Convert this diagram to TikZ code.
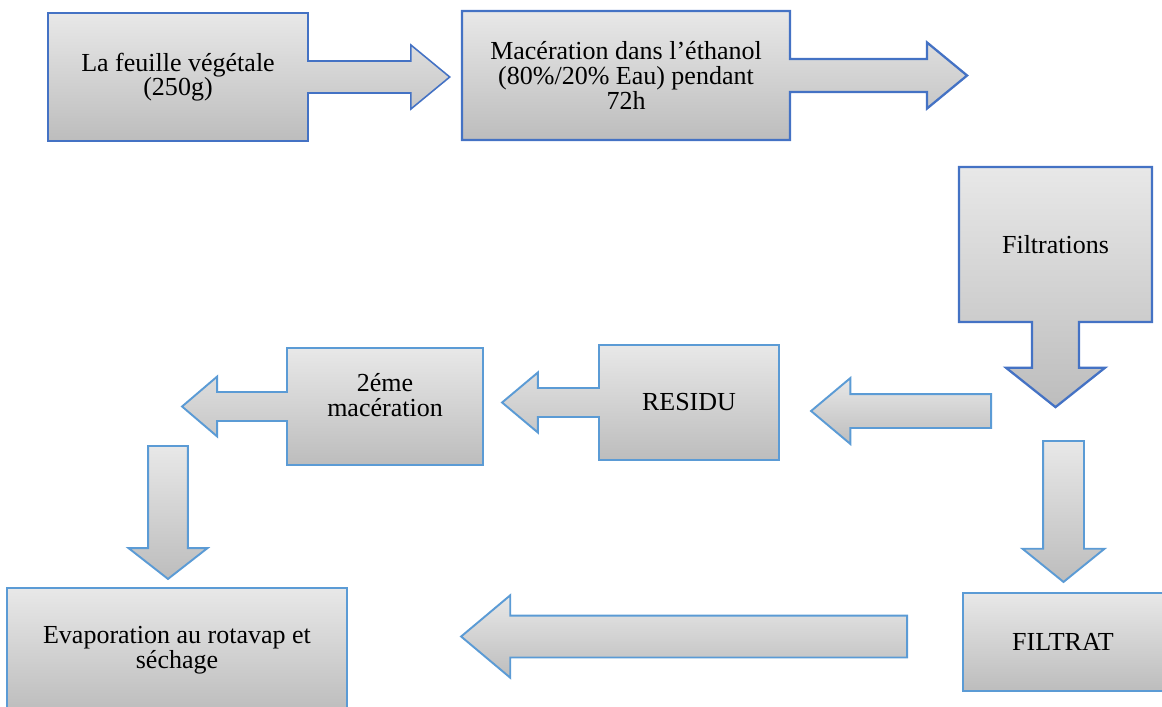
\documentclass[tikz,border=0pt]{standalone}
\usepackage{fontspec}
\setmainfont{Liberation Serif}
\usetikzlibrary{shapes.arrows}
\definecolor{darkblue}{HTML}{4472C4}
\definecolor{lightblue}{HTML}{5B9BD5}

\begin{document}
\begin{tikzpicture}[x=0.02cm,y=-0.02cm]
\tikzstyle{stage}=[rectangle, draw=lightblue, line width=1.1pt, top color=black!9, bottom color=black!26, inner sep=0pt, align=center, font=\fontsize{14.8}{14}\selectfont]
\tikzstyle{callout}=[stage, arrow box, arrow box arrows={north:0pt, south:0pt, east:0pt, west:0pt}]
\tikzstyle{flow}=[single arrow, draw=lightblue, line width=1.1pt, top color=black!9, bottom color=black!26, inner sep=0pt, minimum width=0pt, anchor=tail]
\useasboundingbox (0,0) rectangle (1162,706);

\node[callout, draw=darkblue, line width=0.9pt, minimum width=5.2cm, minimum height=2.56cm, arrow box arrows={east:2.82cm}, arrow box shaft width=0.64cm, arrow box head extend=0.32cm, arrow box tip angle=79] (leaf) at (178,77) {La feuille végétale\\(250g)};
\node[callout, draw=darkblue, line width=1.3pt, minimum width=6.56cm, minimum height=2.58cm, arrow box arrows={east:3.52cm}, arrow box shaft width=0.66cm, arrow box head extend=0.33cm, arrow box tip angle=79] (macer) at (626,75.5) {Macération dans l’éthanol\\(80\%/20\% Eau) pendant\\72h};
\node[callout, draw=darkblue, line width=1.3pt, minimum width=3.86cm, minimum height=3.1cm, arrow box arrows={south:1.68cm}, arrow box shaft width=0.94cm, arrow box head extend=0.52cm, arrow box tip angle=103] (filtr) at (1055.5,244.5) {Filtrations};

\node[flow, shape border rotate=180, inner ysep=0.32cm, single arrow head extend=0.32cm, single arrow tip angle=80, minimum height=3.6cm] (toresidu) at (992,411) {};

\node[callout, minimum width=3.6cm, minimum height=2.3cm, arrow box arrows={west:1.92cm}, arrow box shaft width=0.58cm, arrow box head extend=0.31cm, arrow box tip angle=80] (residu) at (689,402.5) {RESIDU};
\node[callout, minimum width=3.92cm, minimum height=2.34cm, text depth=0.47cm, arrow box arrows={west:2.08cm}, arrow box shaft width=0.58cm, arrow box head extend=0.31cm, arrow box tip angle=81] (second) at (385,406.5) {2éme\\macération};

\node[flow, shape border rotate=270, inner xsep=0.38cm, single arrow head extend=0.39cm, single arrow tip angle=104, minimum height=2.66cm] (toevap) at (168,445) {};
\node[flow, shape border rotate=270, inner xsep=0.39cm, single arrow head extend=0.41cm, single arrow tip angle=102, minimum height=2.82cm] (tofiltrat) at (1063.5,440) {};

\node[stage, minimum width=6.8cm, minimum height=2.48cm] (evap) at (177,650) {Evaporation au rotavap et\\séchage};
\node[stage, minimum width=4cm, minimum height=1.96cm] (filtrat) at (1063,642) {FILTRAT};

\node[flow, shape border rotate=180, inner ysep=0.4cm, single arrow head extend=0.405cm, single arrow tip angle=80, minimum height=8.92cm] (back) at (908,636.5) {};

\end{tikzpicture}
\end{document}
